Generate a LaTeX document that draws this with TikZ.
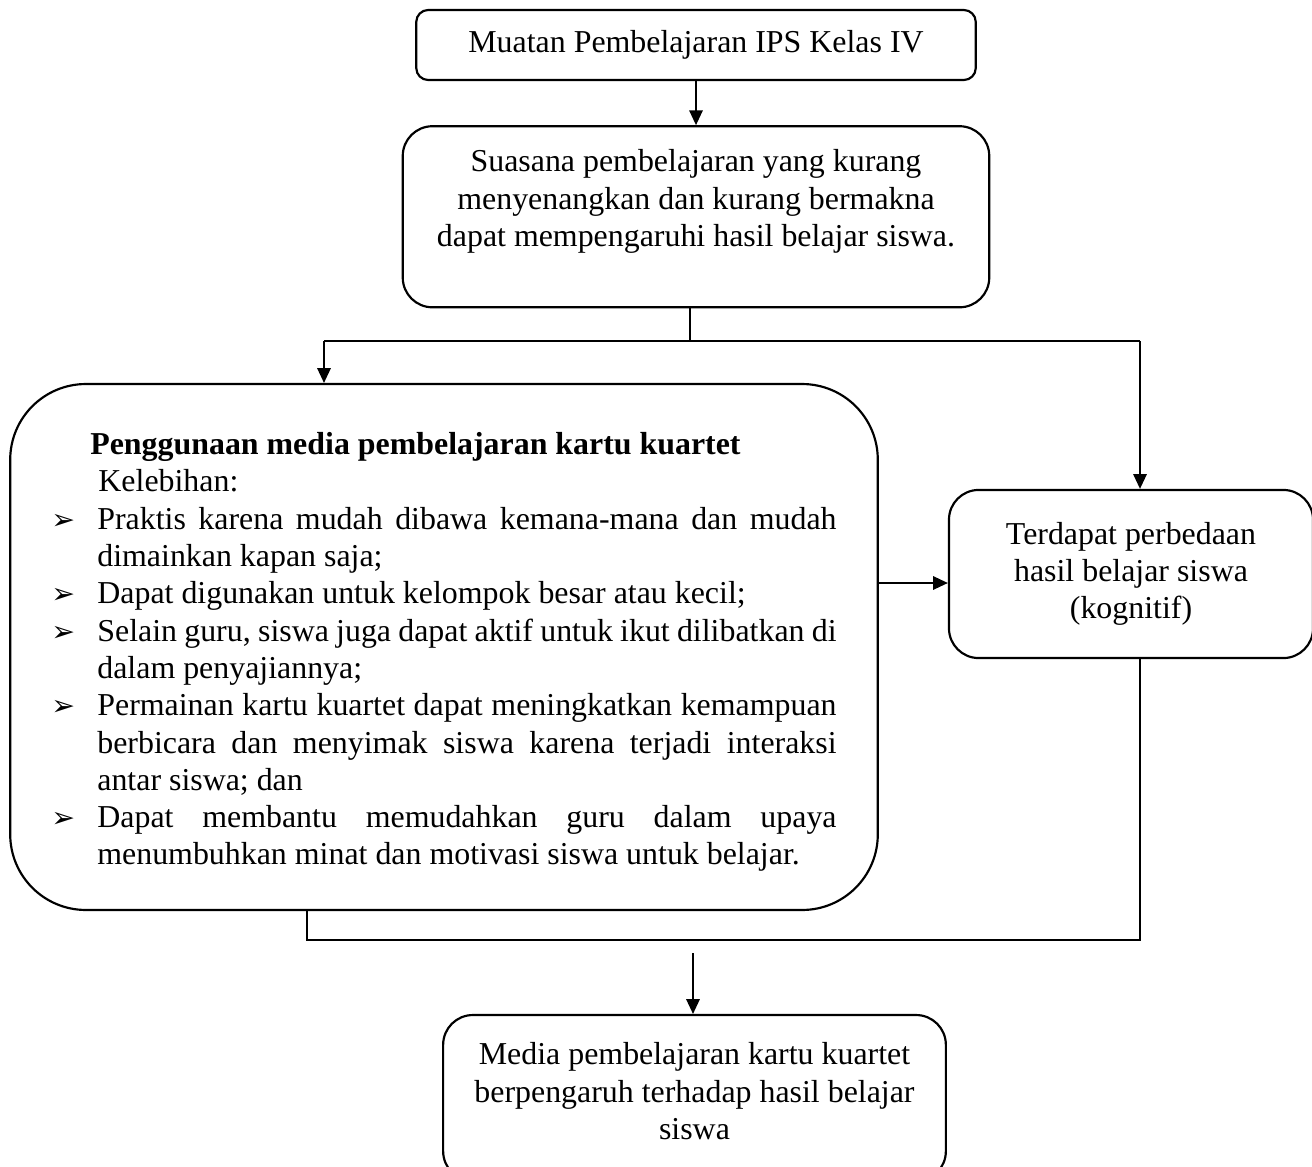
\documentclass[tikz,border=0pt]{standalone}
\usepackage{fontspec}
\setmainfont{Liberation Serif}
\newfontfamily\dejavu{DejaVu Sans}
\usepackage{tikz}
\usetikzlibrary{arrows.meta, positioning, shapes}

\hyphenpenalty=10000
\exhyphenpenalty=10000
\newcommand{\kbul}{{\dejavu\bfseries\fontsize{10.5}{10.5}\selectfont ➢}}
\newcommand{\kitem}{\par\noindent\hangindent=17pt\hangafter=1\makebox[17pt][l]{\kbul}}

\begin{document}
\begin{tikzpicture}[x=0.37pt, y=-0.37pt, line width=0.6pt,
    >={Triangle[length=5.5pt, width=5pt]},
    font=\fontsize{11.8}{13.8}\selectfont,
    box/.style={draw, line width=0.8pt, align=center, inner sep=0pt}]
            \useasboundingbox (0,0) rectangle (1312,1167);
            % \tikzstyle{box}=[draw, rounded corners]
            \node[box, rounded corners=4.4pt, minimum width=207pt, minimum height=25.9pt] (A) at (696,45) {Muatan Pembelajaran IPS Kelas IV};
            \node[box, rounded corners=11pt, minimum width=217pt, minimum height=67pt] (B) [below = 16.3pt of A] {Suasana pembelajaran yang kurang\\ menyenangkan dan kurang bermakna\\ dapat mempengaruhi hasil belajar siswa.\\ \mbox{}};
            \node[box, rounded corners=28pt, minimum width=321pt, minimum height=194.6pt, text width=290.5pt, align=justify] (C) at (444,647) {%
                \noindent\rule{0pt}{12pt}\hspace*{14.4pt}\textbf{Penggunaan media pembelajaran kartu kuartet}\par
                \noindent\hspace*{17.4pt}Kelebihan:
                \kitem Praktis karena mudah dibawa kemana-mana dan mudah\linebreak dimainkan kapan saja;
                \kitem Dapat digunakan untuk kelompok besar atau kecil;
                \kitem Selain guru, siswa juga dapat aktif untuk ikut dilibatkan di\linebreak dalam penyajiannya;
                \kitem Permainan kartu kuartet dapat meningkatkan kemampuan\linebreak berbicara dan menyimak siswa karena terjadi interaksi\linebreak antar siswa; dan
                \kitem Dapat membantu memudahkan guru dalam upaya\linebreak menumbuhkan minat dan motivasi siswa untuk belajar.\par};
            \node[box, rounded corners=11pt, minimum width=134.7pt, minimum height=62.2pt] (D) at (1131,574) {Terdapat perbedaan\\ hasil belajar siswa\\ (kognitif)};
            \node[box, rounded corners=11pt, minimum width=186pt, minimum height=61.4pt] (E) at (694.5,1098) {Media pembelajaran kartu kuartet\\ berpengaruh terhadap hasil belajar\\ siswa\\[-8.6pt] \mbox{}};

            \coordinate (s) at (690,341);
            \coordinate (l) at (324,341);
            \coordinate (r) at (1140,341);
            \coordinate (h) at (900,583);
            \coordinate (jl) at (307,940);
            \coordinate (jr) at (1140,940);
            \coordinate (m) at (693,953);

            \draw[->] (A) -- (A |- B.north);
            \draw (s |- B.south) -- (s);
            \draw (l) -- (r);
            \draw[->] (l) -- (l |- C.north);
            \draw[->] (r) -- (r |- D.north);
            \draw[->] (C.east |- h) -- (D.west |- h);
            \draw (jl |- C.south) -- (jl) -- (jr) -- (jr |- D.south);
            \draw[->] (m) -- (m |- E.north);
        \end{tikzpicture}
\end{document}
